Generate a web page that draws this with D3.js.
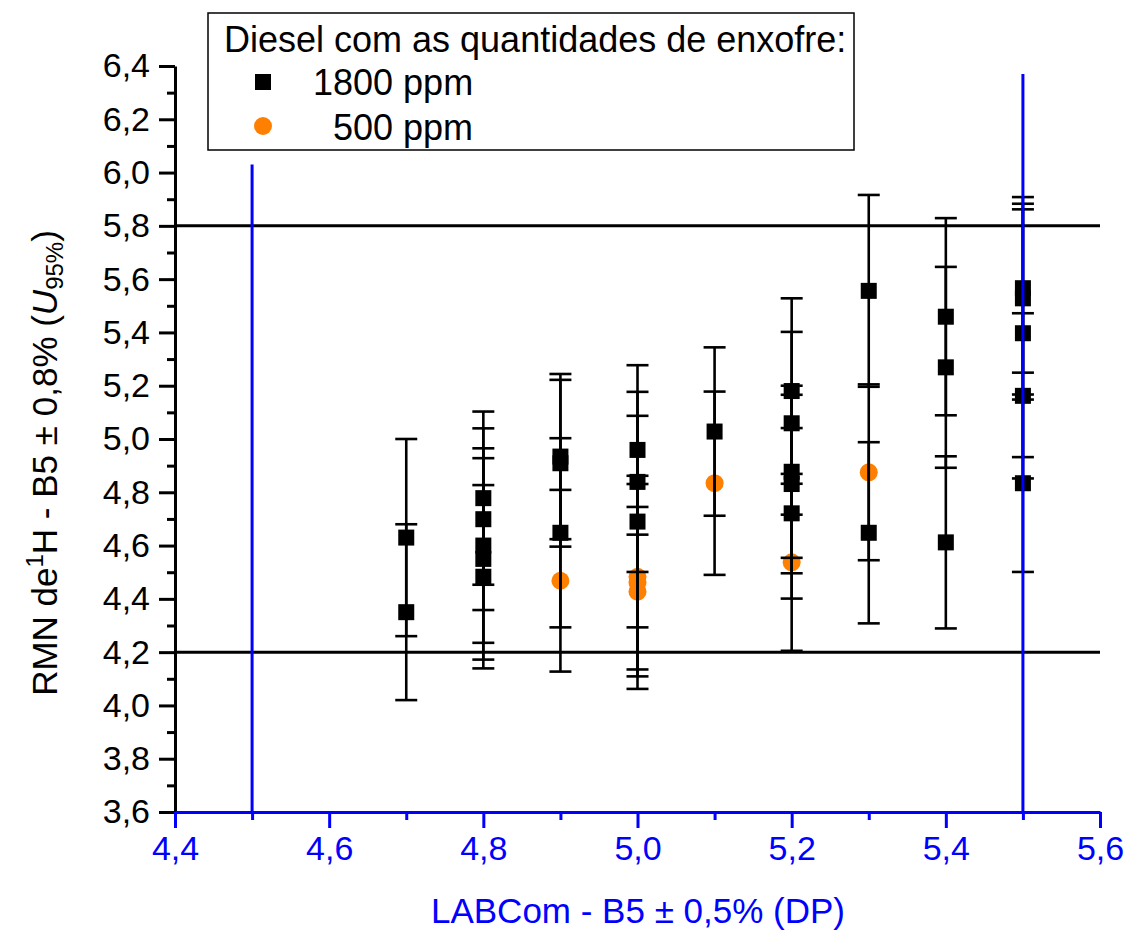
<!DOCTYPE html>
<html>
<head>
<meta charset="utf-8">
<script src="https://cdn.jsdelivr.net/npm/d3@7"></script>
<style>
  html, body { margin: 0; padding: 0; background: #fff; }
  svg { display: block; font-family: "Liberation Sans", Arial, sans-serif; }
</style>
</head>
<body>
<svg id="chart" width="1128" height="931"></svg>
<script>
// Diesel 1800 ppm: [LABCom value, RMN value, U95% half-width]
const series1800 = [
  [4.7, 4.630, 0.370], [4.7, 4.350, 0.330],
  [4.8, 4.778, 0.325], [4.8, 4.699, 0.341], [4.8, 4.600, 0.365], [4.8, 4.550, 0.378], [4.8, 4.483, 0.344],
  [4.9, 4.934, 0.310], [4.9, 4.909, 0.313], [4.9, 4.648, 0.355],
  [5.0, 4.959, 0.318], [5.0, 4.839, 0.338], [5.0, 4.690, 0.397],
  [5.1, 5.028, 0.316],
  [5.2, 5.180, 0.348], [5.2, 5.059, 0.343], [5.2, 4.877, 0.323], [5.2, 4.831, 0.335], [5.2, 4.721, 0.320],
  [5.3, 5.556, 0.360], [5.3, 4.648, 0.340],
  [5.4, 5.459, 0.370], [5.4, 5.269, 0.377], [5.4, 4.612, 0.323],
  [5.5, 5.566, 0.317], [5.5, 5.528, 0.380], [5.5, 5.397, 0.465], [5.5, 5.162, 0.310], [5.5, 4.834, 0.333]
];

// Diesel 500 ppm: [LABCom value, RMN value, U95% half-width]
const series500 = [
  [4.9, 4.468, 0.341],
  [5.0, 4.483, 0.348], [5.0, 4.462, 0.400], [5.0, 4.427, 0.318],
  [5.1, 4.834, 0.344],
  [5.2, 4.537, 0.332],
  [5.3, 4.875, 0.330]
];

// Acceptance limits: RMN 5,0 ± 0,8 and LABCom 5,0 ± 0,5
const limitsY = [4.2, 5.8];
const limitsX = [[4.5, 6.03], [5.5, 6.37]];   // [x, upper end of the line]

const xMajorTicks = [4.4, 4.6, 4.8, 5.0, 5.2, 5.4, 5.6];
const xMinorTicks = [4.5, 4.7, 4.9, 5.1, 5.3, 5.5];
const yMajorTicks = [3.6, 3.8, 4.0, 4.2, 4.4, 4.6, 4.8, 5.0, 5.2, 5.4, 5.6, 5.8, 6.0, 6.2, 6.4];
const yMinorTicks = [3.7, 3.9, 4.1, 4.3, 4.5, 4.7, 4.9, 5.1, 5.3, 5.5, 5.7, 5.9, 6.1, 6.3];

const legendTitle = "Diesel com as quantidades de enxofre:";
const legendLabels = ["1800 ppm", " 500 ppm"];

const BLUE = "#0000ff";
const ORANGE = "#ff8000";
const FONT = "'Liberation Sans', Arial, sans-serif";
const fmt = v => d3.format(".1f")(v).replace(".", ",");

const svg = d3.select("#chart");
const x = d3.scaleLinear().domain([4.4, 5.6]).range([175, 1100]);
const y = d3.scaleLinear().domain([3.6, 6.4]).range([812, 66]);

// horizontal limit lines
svg.append("g").selectAll("line").data(limitsY).join("line")
  .attr("x1", x(4.4)).attr("x2", x(5.6))
  .attr("y1", d => y(d)).attr("y2", d => y(d))
  .attr("stroke", "#000").attr("stroke-width", 3);

// markers
const m = svg.append("g");
m.selectAll("rect").data(series1800).join("rect")
  .attr("x", d => x(d[0]) - 8).attr("y", d => y(d[1]) - 8)
  .attr("width", 16).attr("height", 16).attr("fill", "#000");
m.selectAll("circle").data(series500).join("circle")
  .attr("cx", d => x(d[0])).attr("cy", d => y(d[1])).attr("r", 9)
  .attr("fill", ORANGE);

// error bars
const all = series1800.concat(series500);
const eb = svg.append("g").attr("stroke", "#000").attr("stroke-width", 2.6);
eb.selectAll("line.v").data(all).join("line").attr("class", "v")
  .attr("x1", d => x(d[0])).attr("x2", d => x(d[0]))
  .attr("y1", d => y(d[1] - d[2])).attr("y2", d => y(d[1] + d[2]));
eb.selectAll("line.t").data(all).join("line").attr("class", "t")
  .attr("x1", d => x(d[0]) - 11).attr("x2", d => x(d[0]) + 11)
  .attr("y1", d => y(d[1] + d[2])).attr("y2", d => y(d[1] + d[2]));
eb.selectAll("line.b").data(all).join("line").attr("class", "b")
  .attr("x1", d => x(d[0]) - 11).attr("x2", d => x(d[0]) + 11)
  .attr("y1", d => y(d[1] - d[2])).attr("y2", d => y(d[1] - d[2]));

// vertical limit lines
svg.append("g").selectAll("line").data(limitsX).join("line")
  .attr("x1", d => x(d[0])).attr("x2", d => x(d[0]))
  .attr("y1", y(3.6)).attr("y2", d => y(d[1]))
  .attr("stroke", BLUE).attr("stroke-width", 3);

// y axis
const yAxis = svg.append("g").attr("transform", `translate(${x(4.4)},0)`)
  .call(d3.axisLeft(y).tickValues(yMajorTicks).tickFormat(fmt).tickSize(16).tickSizeOuter(0).tickPadding(9));
const yMinor = svg.append("g").attr("transform", `translate(${x(4.4)},0)`)
  .call(d3.axisLeft(y).tickValues(yMinorTicks).tickFormat("").tickSize(8).tickSizeOuter(0));
yMinor.select(".domain").remove();
yAxis.select(".domain").attr("stroke-width", 3);
yAxis.selectAll(".tick line").attr("stroke-width", 3);
yMinor.selectAll(".tick line").attr("stroke-width", 3);
yAxis.selectAll("text").attr("font-size", 34).attr("fill", "#000").attr("font-family", FONT);

// x axis
const xAxis = svg.append("g").attr("transform", `translate(0,${y(3.6)})`)
  .call(d3.axisBottom(x).tickValues(xMajorTicks).tickFormat(fmt).tickSize(16).tickSizeOuter(0).tickPadding(8));
const xMinor = svg.append("g").attr("transform", `translate(0,${y(3.6)})`)
  .call(d3.axisBottom(x).tickValues(xMinorTicks).tickFormat("").tickSize(8).tickSizeOuter(0));
xMinor.select(".domain").remove();
xAxis.select(".domain").attr("stroke", BLUE).attr("stroke-width", 3);
xAxis.selectAll(".tick line").attr("stroke", BLUE).attr("stroke-width", 3);
xMinor.selectAll(".tick line").attr("stroke", BLUE).attr("stroke-width", 3);
xAxis.selectAll("text").attr("font-size", 34).attr("fill", BLUE).attr("font-family", FONT);

// axis titles
svg.append("text")
  .attr("x", 638).attr("y", 923).attr("text-anchor", "middle")
  .attr("font-size", 35).attr("fill", BLUE)
  .text("LABCom - B5 \u00b1 0,5% (DP)");

const yt = svg.append("text")
  .attr("transform", "translate(57,463) rotate(-90)")
  .attr("text-anchor", "middle").attr("font-size", 35).attr("fill", "#000");
yt.append("tspan").text("RMN de");
yt.append("tspan").attr("font-size", 24).attr("dy", -14).text("1");
yt.append("tspan").attr("dy", 14).text("H - B5 \u00b1 0,8% (");
yt.append("tspan").attr("font-style", "italic").text("U");
yt.append("tspan").attr("font-size", 24).attr("dy", 6).text("95%");
yt.append("tspan").attr("dy", -6).text(")");

// legend
const lg = svg.append("g");
lg.append("rect").attr("x", 208).attr("y", 13).attr("width", 646).attr("height", 137)
  .attr("fill", "#fff").attr("stroke", "#000").attr("stroke-width", 1.5);
lg.append("text").attr("x", 224).attr("y", 52).attr("font-size", 36).attr("fill", "#000").text(legendTitle);
lg.append("rect").attr("x", 255).attr("y", 74).attr("width", 16).attr("height", 16).attr("fill", "#000");
lg.append("circle").attr("cx", 263).attr("cy", 126).attr("r", 9).attr("fill", ORANGE);
lg.append("text").attr("x", 313).attr("y", 95).attr("font-size", 36).attr("fill", "#000")
  .style("white-space", "pre").text(legendLabels[0]);
lg.append("text").attr("x", 323).attr("y", 140).attr("font-size", 36).attr("fill", "#000")
  .style("white-space", "pre").text(legendLabels[1]);
</script>
</body>
</html>
